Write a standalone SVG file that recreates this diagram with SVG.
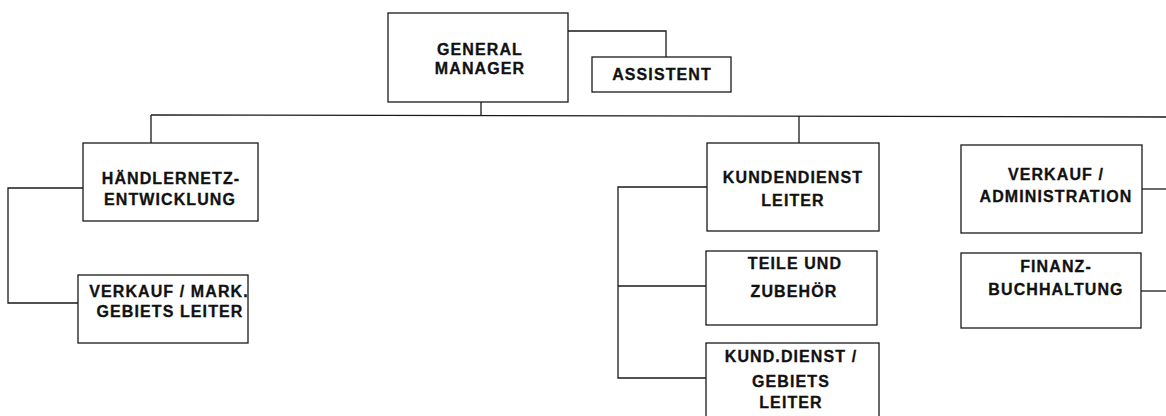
<svg xmlns="http://www.w3.org/2000/svg" width="1166" height="416" viewBox="0 0 1166 416">
<style>
.box{fill:#fff;stroke:#1a1a1a;stroke-width:1.3}
.ln{fill:none;stroke:#1a1a1a;stroke-width:1.3}
text{font-family:"Liberation Sans",Arial,sans-serif;font-weight:bold;font-size:16px;fill:#111;stroke:#111;stroke-width:0.3;text-anchor:middle;letter-spacing:1.1px}
</style>
<rect width="1166" height="416" fill="#fff"/>
<g id="connectors">
<polyline class="ln" points="568,31 666,31 666,57"/>
<line class="ln" x1="481" y1="102" x2="481" y2="115"/>
<line class="ln" x1="151" y1="115" x2="1166" y2="117"/>
<line class="ln" x1="151" y1="115" x2="151" y2="143"/>
<line class="ln" x1="799" y1="116" x2="799" y2="143"/>
<polyline class="ln" points="83,188 8,188 8,303 78,303"/>
<polyline class="ln" points="707,187 618,187 618,378 706,378"/>
<line class="ln" x1="618" y1="286" x2="706" y2="286"/>
<line class="ln" x1="1142" y1="189" x2="1166" y2="189"/>
<line class="ln" x1="1141" y1="291" x2="1166" y2="291"/>
</g>
<g id="general-manager">
<rect class="box" x="388" y="13" width="180" height="89"/>
<text x="480" y="55">GENERAL</text>
<text x="480" y="74">MANAGER</text>
</g>
<g id="assistent">
<rect class="box" x="592" y="57" width="139" height="35"/>
<text x="662" y="80">ASSISTENT</text>
</g>
<g id="haendlernetz">
<rect class="box" x="83" y="143" width="175" height="78"/>
<text x="171" y="184">HÄNDLERNETZ-</text>
<text x="170" y="205">ENTWICKLUNG</text>
</g>
<g id="verkauf-mark">
<rect class="box" x="78" y="275" width="170" height="68"/>
<text x="169" y="297">VERKAUF / MARK.</text>
<text x="170" y="317">GEBIETS LEITER</text>
</g>
<g id="kundendienst">
<rect class="box" x="707" y="143" width="172" height="88"/>
<text x="793" y="183">KUNDENDIENST</text>
<text x="793" y="206">LEITER</text>
</g>
<g id="teile">
<rect class="box" x="706" y="251" width="171" height="74"/>
<text x="795" y="269">TEILE UND</text>
<text x="794" y="297">ZUBEHÖR</text>
</g>
<g id="kund-dienst-gebiet">
<rect class="box" x="706" y="343" width="173" height="80"/>
<text x="791" y="362">KUND.DIENST /</text>
<text x="791" y="387">GEBIETS</text>
<text x="791" y="408">LEITER</text>
</g>
<g id="verkauf-admin">
<rect class="box" x="961" y="145" width="181" height="88"/>
<text x="1056" y="180">VERKAUF /</text>
<text x="1056" y="202">ADMINISTRATION</text>
</g>
<g id="finanz">
<rect class="box" x="961" y="253" width="180" height="75"/>
<text x="1056" y="272">FINANZ-</text>
<text x="1056" y="295">BUCHHALTUNG</text>
</g>
</svg>
